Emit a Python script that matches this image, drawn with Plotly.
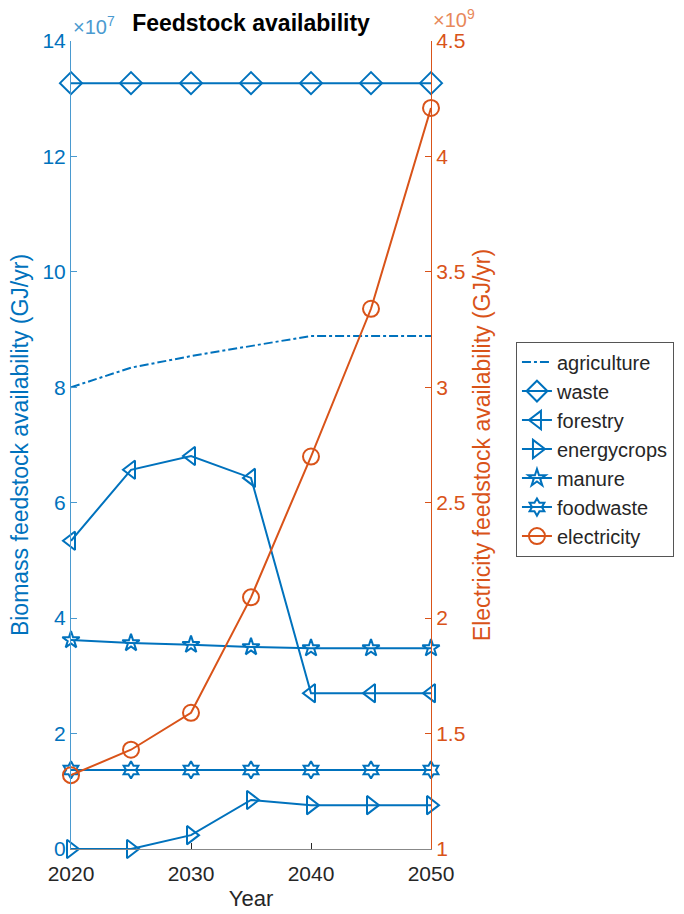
import plotly.graph_objects as go

years = [2020, 2025, 2030, 2035, 2040, 2045, 2050]
agriculture = [8.00e7, 8.34e7, 8.54e7, 8.72e7, 8.89e7, 8.89e7, 8.89e7]
waste = [13.27e7] * 7
forestry = [5.34e7, 6.57e7, 6.81e7, 6.43e7, 2.70e7, 2.70e7, 2.70e7]
energycrops = [0.0, 0.0, 0.24e7, 0.85e7, 0.76e7, 0.76e7, 0.76e7]
manure = [3.62e7, 3.57e7, 3.54e7, 3.50e7, 3.48e7, 3.48e7, 3.48e7]
foodwaste = [1.37e7] * 7
electricity = [1.32e9, 1.43e9, 1.59e9, 2.09e9, 2.70e9, 3.34e9, 4.21e9]

left_ticks = [0, 2e7, 4e7, 6e7, 8e7, 10e7, 12e7, 14e7]
left_labels = ["0", "2", "4", "6", "8", "10", "12", "14"]
right_ticks = [1e9, 1.5e9, 2e9, 2.5e9, 3e9, 3.5e9, 4e9, 4.5e9]
right_labels = ["1", "1.5", "2", "2.5", "3", "3.5", "4", "4.5"]
x_ticks = [2020, 2030, 2040, 2050]

BLUE = "#0072BD"
ORANGE = "#D95319"
FONT = "Liberation Sans, Arial, sans-serif"

fig = go.Figure()

def add(name, y, symbol, size=15, color=BLUE, dash="solid", axis="y", mode="lines+markers"):
    fig.add_trace(go.Scatter(
        x=years, y=y, name=name, mode=mode, yaxis=axis,
        line=dict(color=color, width=2, dash=dash),
        marker=dict(symbol=symbol, size=size, color=color,
                    line=dict(color=color, width=2)),
        cliponaxis=False,
    ))

add("agriculture", agriculture, "circle", dash="dashdot", mode="lines")
add("waste", waste, "diamond-open", size=17)
add("forestry", forestry, "triangle-left-open", size=16)
add("energycrops", energycrops, "triangle-right-open", size=16)
add("manure", manure, "star-open", size=13)
add("foodwaste", foodwaste, "hexagram-open", size=13)
add("electricity", electricity, "circle-open", size=16, color=ORANGE, axis="y2")

fig.update_layout(
    width=684, height=914,
    margin=dict(l=71, r=253, t=41, b=65, autoexpand=False),
    paper_bgcolor="white", plot_bgcolor="white",
    font=dict(family=FONT, size=21, color="#262626"),
    title=dict(text="<b>Feedstock availability</b>", x=0.367, xanchor="center",
               y=0.975, yanchor="middle", font=dict(size=23, color="black")),
    showlegend=True,
    legend=dict(x=1.236, xanchor="left", y=0.628, yanchor="top",
                bgcolor="white", bordercolor="#555", borderwidth=1,
                font=dict(size=20, color="#262626"), tracegroupgap=0),
    xaxis=dict(range=[2020, 2050], tickvals=x_ticks, showgrid=False, zeroline=False,
               showline=True, linecolor="#888", linewidth=1, ticks="inside",
               ticklen=6, tickcolor="#262626", tickfont=dict(size=21, color="#262626"),
               ticklabelstandoff=6,
               title=dict(text="Year", font=dict(size=22, color="#262626"), standoff=6)),
    yaxis=dict(range=[0, 14e7], tickvals=left_ticks, ticktext=left_labels,
               showgrid=False, zeroline=False, showline=True, linecolor="#4A9AD0",
               linewidth=1, ticks="inside", ticklen=6, tickcolor="#4A9AD0",
               tickfont=dict(size=21, color=BLUE),
               title=dict(text="Biomass feedstock availability (GJ/yr)",
                          font=dict(size=23, color=BLUE), standoff=7)),
    yaxis2=dict(range=[1e9, 4.5e9], tickvals=right_ticks, ticktext=right_labels,
                overlaying="y", side="right", showgrid=False, zeroline=False,
                showline=True, linecolor=ORANGE, linewidth=1, ticks="inside",
                ticklen=6, tickcolor=ORANGE, tickfont=dict(size=21, color=ORANGE),
                title=dict(text="Electricity feedstock availability (GJ/yr)",
                           font=dict(size=23, color=ORANGE), standoff=9)),
)

fig.add_annotation(xref="paper", yref="paper", x=0, y=1, xanchor="left", yanchor="bottom",
                   yshift=1, xshift=0, showarrow=False,
                   text="×10<sup>7</sup>", font=dict(size=20, color="#4A9AD0"))
fig.add_annotation(xref="paper", yref="paper", x=1, y=1, xanchor="left", yanchor="bottom",
                   yshift=8, xshift=0, showarrow=False,
                   text="×10<sup>9</sup>", font=dict(size=20, color="#E8885A"))

fig.write_html("out.html")
